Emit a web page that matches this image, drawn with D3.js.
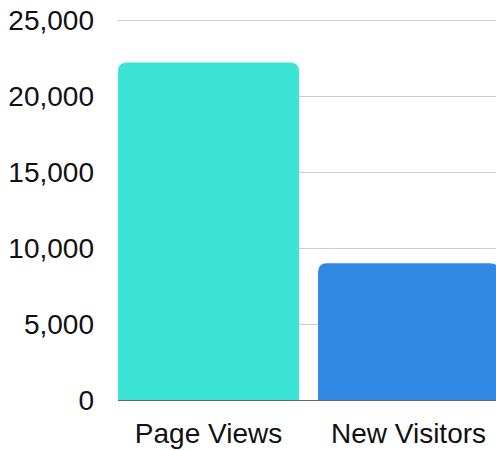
<!DOCTYPE html>
<html>
<head>
<meta charset="utf-8">
<script src="https://cdn.jsdelivr.net/npm/d3@7"></script>
<style>
  html, body { margin: 0; padding: 0; background: #fff; }
  svg { display: block; }
  text { font-family: "Liberation Sans", Arial, sans-serif; fill: #111; }
</style>
</head>
<body>
<svg id="chart" width="496" height="450"></svg>
<script>
// Site traffic totals
const categories = ["Page Views", "New Visitors"];
const values = [22200, 9000];
const barColors = ["#3be4d4", "#3289e3"];
const yTicks = [0, 5000, 10000, 15000, 20000, 25000];

const svg = d3.select("#chart");
const margin = { left: 118, top: 20, bottom: 50 };
const height = 450;

const x = d3.scaleBand()
  .domain(categories)
  .range([margin.left, 499])
  .paddingInner(0.095)
  .paddingOuter(0);

const y = d3.scaleLinear()
  .domain([0, 25000])
  .range([height - margin.bottom, margin.top]);

// horizontal gridlines
svg.append("g")
  .selectAll("line")
  .data(yTicks.filter(d => d > 0))
  .join("line")
  .attr("x1", margin.left)
  .attr("x2", 496)
  .attr("y1", d => y(d) + 0.5)
  .attr("y2", d => y(d) + 0.5)
  .attr("stroke", "#cccccc")
  .attr("stroke-width", 1);

// y tick labels
svg.append("g")
  .selectAll("text")
  .data(yTicks)
  .join("text")
  .attr("x", 94)
  .attr("y", d => y(d))
  .attr("dy", "0.36em")
  .attr("text-anchor", "end")
  .attr("font-size", 28)
  .text(d => d3.format(",")(d));

// bars with rounded top corners
const r = 9;
function topRounded(x0, y0, w, h) {
  const rr = Math.min(r, h, w / 2);
  return `M${x0},${y0 + h}` +
    `V${y0 + rr}` +
    `Q${x0},${y0} ${x0 + rr},${y0}` +
    `H${x0 + w - rr}` +
    `Q${x0 + w},${y0} ${x0 + w},${y0 + rr}` +
    `V${y0 + h}Z`;
}

svg.append("g")
  .selectAll("path")
  .data(categories)
  .join("path")
  .attr("fill", (d, i) => barColors[i])
  .attr("d", (d, i) => topRounded(x(d), y(values[i]), x.bandwidth(), y(0) - y(values[i])));

// baseline
svg.append("line")
  .attr("x1", margin.left)
  .attr("x2", 496)
  .attr("y1", y(0) + 0.5)
  .attr("y2", y(0) + 0.5)
  .attr("stroke", "#666666")
  .attr("stroke-width", 1);

// category labels
svg.append("g")
  .selectAll("text")
  .data(categories)
  .join("text")
  .attr("x", d => x(d) + x.bandwidth() / 2)
  .attr("y", 443)
  .attr("text-anchor", "middle")
  .attr("font-size", 28)
  .text(d => d);
</script>
</body>
</html>
